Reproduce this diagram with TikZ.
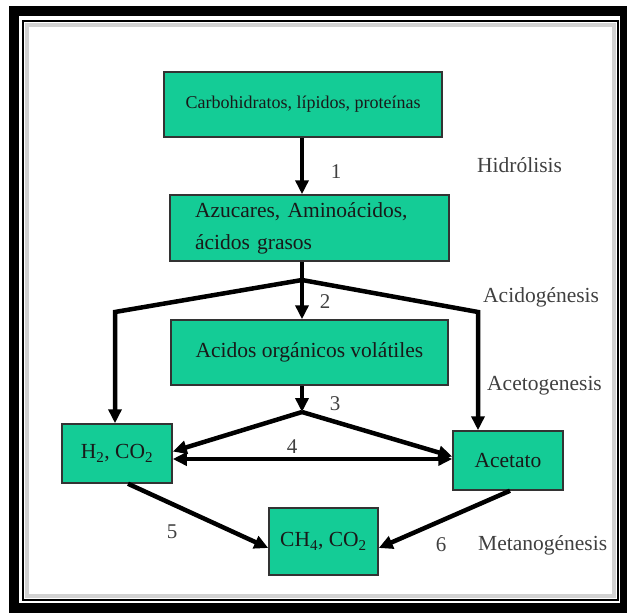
\documentclass[tikz,border=0pt]{standalone}
\usepackage{fontspec}
\setmainfont{Liberation Serif}
\usetikzlibrary{arrows.meta}
\definecolor{boxgreen}{RGB}{20,204,150}
\tikzstyle{flow} = [-{Triangle[length=14pt,width=13pt]}, line width=4.5pt]
\tikzstyle{line} = [line width=4.5pt]
\tikzstyle{block} = [draw=black!80, line width=1.5pt, fill=boxgreen, rectangle, text=black!90, font=\fontsize{21.5}{32}\selectfont, inner sep=0pt]
\tikzstyle{stage} = [anchor=west, text=black!75, font=\fontsize{21.5}{26}\selectfont, inner sep=0pt]
\tikzstyle{num} = [text=black!75, font=\fontsize{21}{25}\selectfont, inner sep=0pt]
\begin{document}
\begin{tikzpicture}[x=1pt, y=-1pt]
        \useasboundingbox (0,0) rectangle (627,613);
        % marco
        \draw [line width=10pt] (14,11) rectangle (625,608);
        \draw [gray!35, line width=4pt] (27,25) rectangle (614,596);
        \draw [line width=1.5pt] (23,21) rectangle (618,600);

        \node [block, minimum width=278pt, minimum height=65pt, font=\fontsize{18}{22}\selectfont] (polimeros) at (303,104.5) {Carbohidratos, lípidos, proteínas};
        \node [block, minimum width=279pt, minimum height=66pt, text width=229pt, inner xsep=25pt, align=left] (monomeros) at (309.5,228) {Azucares, Aminoácidos,\\ácidos grasos};
        \node [block, minimum width=277pt, minimum height=65pt] (acidos) at (309.5,352.5) {Acidos orgánicos volátiles};
        \node [block, minimum width=110pt, minimum height=59pt] (hidrogeno) at (117,453.5) {H\textsubscript{2}, CO\textsubscript{2}};
        \node [block, minimum width=110pt, minimum height=59pt] (acetato) at (508,460.5) {Acetato};
        \node [block, minimum width=109pt, minimum height=67pt] (metano) at (323.5,541.5) {CH\textsubscript{4}, CO\textsubscript{2}};

        \coordinate (split) at (302,280);
        \coordinate (splitL) at (115,312);
        \coordinate (splitR) at (478,312);
        \coordinate (apex) at (302,412);
        \coordinate (eje) at (0,459);

        \path [flow] (polimeros.south -| split) edge (monomeros.north -| split);
        \draw [line] (monomeros.south -| split) -- (split);
        \draw [flow] (split) -- (acidos.north -| split);
        \draw [flow] (split) -- (splitL) -- (hidrogeno.north -| splitL);
        \draw [flow] (split) -- (splitR) -- (acetato.north -| splitR);
        \draw [flow] (acidos.south -| apex) -- (apex);
        \draw [flow] (apex) -- ([yshift=2pt]hidrogeno.east);
        \draw [flow] (apex) -- ([yshift=4pt]acetato.west);
        \draw [flow, {Triangle[length=14pt,width=13pt]}-{Triangle[length=14pt,width=13pt]}] (hidrogeno.east |- eje) -- (acetato.west |- eje);
        \draw [flow] ([xshift=11pt]hidrogeno.south) -- ([yshift=-6.5pt]metano.west);
        \draw [flow] ([xshift=2pt]acetato.south) -- ([yshift=-6.5pt]metano.east);

        \node [num] (n1) at (336,172) {1};
        \node [num] (n2) at (325,302) {2};
        \node [num] (n3) at (335,404) {3};
        \node [num] (n4) at (292,447) {4};
        \node [num] (n5) at (172,532) {5};
        \node [num] (n6) at (441,545) {6};

        \node [stage] (hidrolisis) at (477,165) {Hidrólisis};
        \node [stage] (acidogenesis) at (483,297) {Acidogénesis};
        \node [stage] (acetogenesis) at (487,386) {Acetogenesis};
        \node [stage] (metanogenesis) at (478,545) {Metanogénesis};
    \end{tikzpicture}
\end{document}
